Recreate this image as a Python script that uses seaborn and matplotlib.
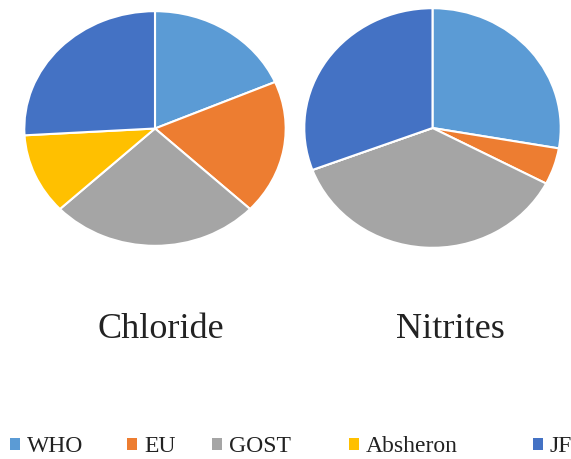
import matplotlib
matplotlib.use('Agg')
import matplotlib.pyplot as plt
import seaborn as sns
from matplotlib.patches import Patch

sns.set_theme(style='white')
plt.rcParams['font.family'] = ['Liberation Serif', 'DejaVu Serif']

# standards (share of each pie)
labels = ['WHO', 'EU', 'GOST', 'Absheron', 'JF']
chloride = [250, 250, 350, 150, 350]
nitrites = [2.8, 0.5, 3.7, 0, 3.1]
colors = ['#5B9BD5', '#ED7D31', '#A5A5A5', '#FFC000', '#4472C4']

W, H = 571, 459
fig = plt.figure(figsize=(W / 100, H / 100), dpi=100)

def box(x0, y0, x1, y1):
    # pixel box (top-left origin) -> figure fraction
    return [x0 / W, 1 - y1 / H, (x1 - x0) / W, (y1 - y0) / H]

ax1 = fig.add_axes(box(23, 10, 287, 247))
ax2 = fig.add_axes(box(303, 7, 562, 249))

for ax, vals in [(ax1, chloride), (ax2, nitrites)]:
    ax.pie(vals, colors=colors, startangle=90, counterclock=False,
           wedgeprops=dict(edgecolor='white', linewidth=1.5))
    ax.set_aspect('auto')
    ax.set_xlim(-1.01, 1.01)
    ax.set_ylim(-1.01, 1.01)
    ax.axis('off')

fig.text(161 / W, 1 - 329 / H, 'Chloride', ha='center', va='center',
         fontsize=26, color='#222222')
fig.text(450 / W, 1 - 329 / H, 'Nitrites', ha='center', va='center',
         fontsize=26, color='#222222')

# legend entries are spaced unevenly in the original, so one legend per entry
legend_x = [10, 127, 212, 349, 533]
for lab, col, x in zip(labels, colors, legend_x):
    leg = fig.legend([Patch(facecolor=col, edgecolor='none')], [lab],
                     loc='center left', bbox_to_anchor=(x / W, 1 - 447 / H),
                     frameon=False, fontsize=17, handlelength=0.42,
                     handleheight=0.42, handletextpad=0.3, borderpad=0,
                     borderaxespad=0, labelcolor='#222222')

fig.savefig('out.png', dpi=100)
